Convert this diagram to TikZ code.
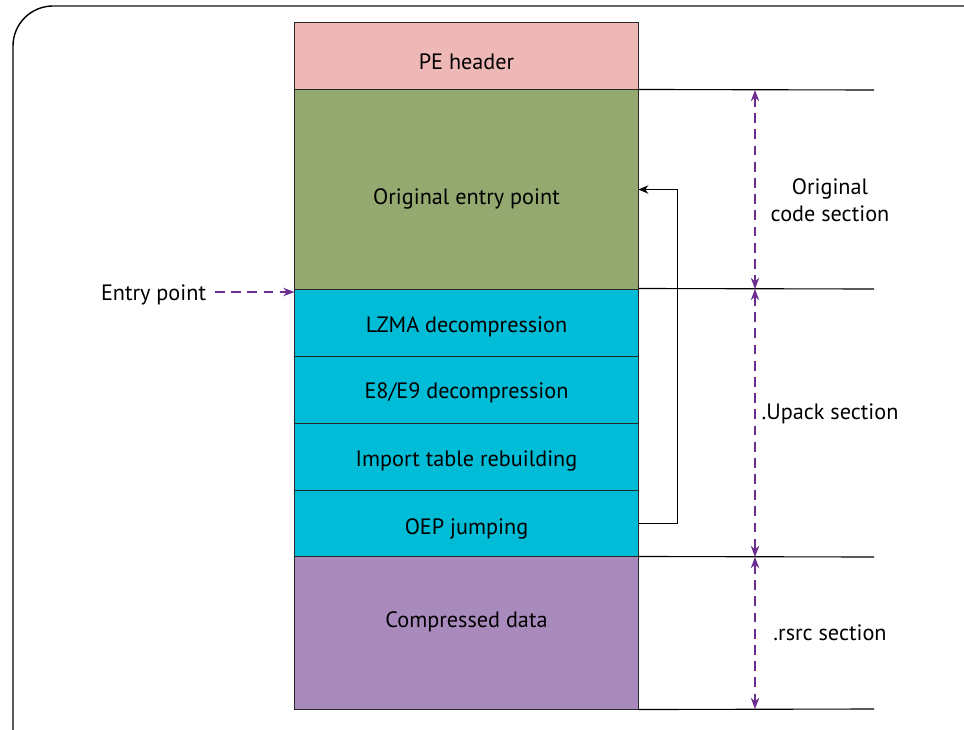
\documentclass[tikz,border=0pt]{standalone}
\usepackage{fontspec}
\setmainfont{PT Sans}
\usetikzlibrary{arrows.meta}
\definecolor{peheader}{HTML}{EDB8B6}
\definecolor{origcode}{HTML}{94A970}
\definecolor{upack}{HTML}{00BCD6}
\definecolor{rsrc}{HTML}{A98ABD}
\definecolor{dimline}{HTML}{6B2D90}
\newcommand\segtext[2]{\raisebox{#1}[0pt][0pt]{#2}}

\begin{document}
\begin{tikzpicture}[x=0.025cm, y=-0.025cm,
  seg/.style={draw=black!85, line width=0.7pt, minimum width=8.575cm, inner sep=0pt, font=\fontsize{15.8}{19}\selectfont},
  dim/.style={{Stealth[length=8pt,width=6pt]}-{Stealth[length=8pt,width=6pt]}, dash pattern=on 7pt off 4.5pt, dimline, line width=0.8pt},
  lbl/.style={align=center, font=\fontsize{15.8}{19.5}\selectfont}]
\useasboundingbox (0,0) rectangle (964,729);
\draw[line width=1pt, rounded corners=1cm] (13,740) -- (13,6) -- (70,6);
\draw[black!60, line width=1.6pt] (52,6) -- (970,6);

\node[seg, fill=peheader, minimum height=1.675cm] (pe) at (466.5,56.5) {\segtext{-9.5pt}{PE header}};
\node[seg, fill=origcode, minimum height=4.975cm] (orig) at (466.5,189.5) {\segtext{-11pt}{Original entry point}};
\node[seg, fill=upack, minimum height=1.675cm] (lzma) at (466.5,322.5) {\segtext{-7pt}{LZMA decompression}};
\node[seg, fill=upack, minimum height=1.675cm] (e8e9) at (466.5,389.5) {\segtext{-6.5pt}{E8/E9 decompression}};
\node[seg, fill=upack, minimum height=1.675cm] (import) at (466.5,456.5) {\segtext{-7pt}{Import table rebuilding}};
\node[seg, fill=upack, minimum height=1.675cm] (oep) at (466.5,523.5) {\segtext{-7.8pt}{OEP jumping}};
\node[seg, fill=rsrc, minimum height=3.8cm] (comp) at (466.5,633) {\segtext{4pt}{Compressed data}};

\foreach \y [count=\i from 0] in {90,289,557,709}{
  \coordinate (r\i) at (874,\y);
  \coordinate (m\i) at (755,\y);
}
\draw[line width=0.8pt] (orig.north east) -- (r0);
\draw[line width=0.8pt] (lzma.north east) -- (r1);
\draw[line width=0.8pt] (comp.north east) -- (r2);
\draw[line width=0.8pt] (comp.south east) -- (r3);
\foreach \a/\b in {0/1,1/2,2/3}
  \draw[dim] (m\a) -- (m\b);

\node[lbl] (origlbl) at (830,200) {Original\\code section};
\node[lbl] (upacklbl) at (830,414) {.Upack section};
\node[lbl] (rsrclbl) at (830,633) {.rsrc section};

\node[lbl, anchor=east] (entry) at (211,295) {Entry point};
\coordinate (ep) at ([yshift=-2.5pt]lzma.north west);
\draw[{}-{Stealth[length=8pt,width=6pt]}, dash pattern=on 7pt off 4.5pt, dimline, line width=0.8pt] (entry.east |- ep) ++(4,0) -- (ep);

\draw[-{Stealth[length=7pt,width=6pt]}, line width=0.8pt] (oep.east) -- ++(39,0) |- (orig.east);
\end{tikzpicture}
\end{document}
